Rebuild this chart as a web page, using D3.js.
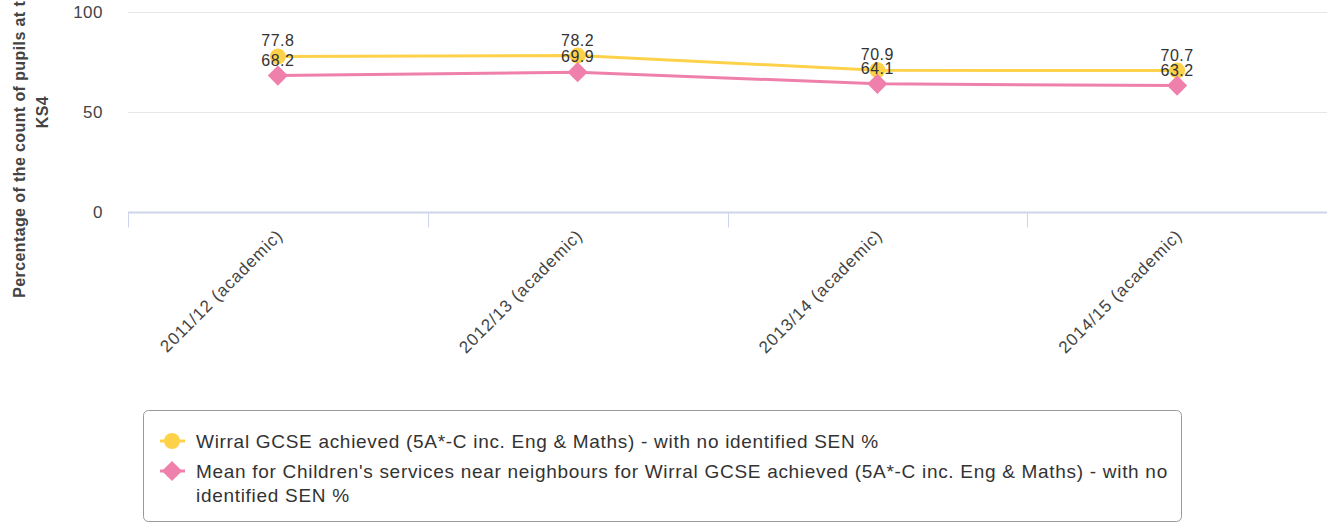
<!DOCTYPE html>
<html>
<head>
<meta charset="utf-8">
<script src="https://cdn.jsdelivr.net/npm/d3@7"></script>
<style>
  body { margin: 0; background: #fff; }
  svg { font-family: "Liberation Sans", Arial, sans-serif; }
</style>
</head>
<body>
<div id="chart"></div>
<script>
// chart data
var categories = ["2011/12 (academic)", "2012/13 (academic)", "2013/14 (academic)", "2014/15 (academic)"];
var wirralValues = [77.8, 78.2, 70.9, 70.7];
var neighbourValues = [68.2, 69.9, 64.1, 63.2];
var yTicks = [0, 50, 100];
var seriesNames = [
  "Wirral GCSE achieved (5A*-C inc. Eng & Maths) - with no identified SEN %",
  "Mean for Children's services near neighbours for Wirral GCSE achieved (5A*-C inc. Eng & Maths) - with no identified SEN %"
];

(function () {
  var width = 1327, height = 524;
  var plot = { left: 128, right: 1327, top: 12, bottom: 212 };
  var yellow = "#fdd24a", pink = "#ef80ab";

  var svg = d3.select("#chart").append("svg")
    .attr("width", width).attr("height", height);

  var x = d3.scaleBand().domain(categories).range([plot.left, plot.right]);
  var y = d3.scaleLinear().domain([0, 100]).range([plot.bottom, plot.top]);

  // grid lines
  svg.append("g").selectAll("line").data(yTicks).enter().append("line")
    .attr("x1", plot.left).attr("x2", plot.right)
    .attr("y1", function (d) { return y(d) + 0.5; })
    .attr("y2", function (d) { return y(d) + 0.5; })
    .attr("stroke", "#e6e6e6");

  // y labels
  svg.append("g").selectAll("text").data(yTicks).enter().append("text")
    .attr("x", 103).attr("y", function (d) { return y(d) + 6; })
    .attr("text-anchor", "end")
    .style("font-size", "17px").style("letter-spacing", "0.5px").style("fill", "#444")
    .text(function (d) { return d; });

  // y title, two lines
  var title = svg.append("text")
    .attr("transform", "translate(0," + y(50) + ") rotate(-90)")
    .attr("text-anchor", "middle")
    .style("font-size", "16px").style("letter-spacing", "0.4px")
    .style("font-weight", "bold").style("fill", "#444");
  title.append("tspan").attr("x", 0).attr("y", 25).text("Percentage of the count of pupils at the end of");
  title.append("tspan").attr("x", 0).attr("y", 48).text("KS4");

  // x axis
  var xAxis = svg.append("g").attr("transform", "translate(0," + (plot.bottom + 0.5) + ")");
  xAxis.append("line").attr("x1", plot.left).attr("x2", plot.right)
    .attr("stroke", "#ccd6eb").attr("stroke-width", 2);
  var tickPos = categories.map(function (c) { return x(c); });
  xAxis.selectAll(".tick").data(tickPos).enter().append("line")
    .attr("x1", function (d) { return Math.round(d) + 0.5; })
    .attr("x2", function (d) { return Math.round(d) + 0.5; })
    .attr("y1", 0).attr("y2", 15)
    .attr("stroke", "#ccd6eb");
  xAxis.selectAll("text").data(categories).enter().append("text")
    .attr("transform", function (d) {
      return "translate(" + (x(d) + x.bandwidth() / 2 + 6) + ",24) rotate(-45)";
    })
    .attr("text-anchor", "end")
    .style("font-size", "17px").style("letter-spacing", "0.9px").style("fill", "#444")
    .text(function (d) { return d; });

  var cx = function (d, i) { return x(categories[i]) + x.bandwidth() / 2; };
  var line = d3.line()
    .x(function (d, i) { return cx(d, i); })
    .y(function (d) { return y(d); });

  // series lines
  svg.append("path").datum(wirralValues).attr("d", line)
    .attr("fill", "none").attr("stroke", yellow).attr("stroke-width", 3);
  svg.append("path").datum(neighbourValues).attr("d", line)
    .attr("fill", "none").attr("stroke", pink).attr("stroke-width", 3);

  // markers
  svg.append("g").selectAll("circle").data(wirralValues).enter().append("circle")
    .attr("cx", cx).attr("cy", function (d) { return y(d); })
    .attr("r", 8).attr("fill", yellow);
  var diamond = d3.symbol().type(d3.symbolDiamond2).size(260);
  svg.append("g").selectAll("path").data(neighbourValues).enter().append("path")
    .attr("d", diamond)
    .attr("transform", function (d, i) { return "translate(" + cx(d, i) + "," + y(d) + ")"; })
    .attr("fill", pink);

  // data labels
  function labels(values) {
    svg.append("g").selectAll("text").data(values).enter().append("text")
      .attr("x", cx).attr("y", function (d) { return y(d) - 10; })
      .attr("text-anchor", "middle")
      .style("font-size", "16px").style("letter-spacing", "0.5px").style("fill", "#333")
      .text(function (d) { return d.toFixed(1); });
  }
  labels(wirralValues);
  labels(neighbourValues);

  // legend
  var legend = svg.append("g");
  legend.append("rect").attr("x", 143.5).attr("y", 410.5)
    .attr("width", 1038).attr("height", 111).attr("rx", 5)
    .attr("fill", "#fff").attr("stroke", "#999");
  var item1 = legend.append("g").attr("transform", "translate(0,441)");
  item1.append("line").attr("x1", 160).attr("x2", 185).attr("stroke", yellow).attr("stroke-width", 3);
  item1.append("circle").attr("cx", 172).attr("cy", 0).attr("r", 8).attr("fill", yellow);
  item1.append("text").attr("x", 196).attr("y", 7)
    .style("font-size", "19px").style("letter-spacing", "0.7px").style("fill", "#333")
    .text(seriesNames[0]);

  var item2 = legend.append("g").attr("transform", "translate(0,471)");
  item2.append("line").attr("x1", 160).attr("x2", 185).attr("stroke", pink).attr("stroke-width", 3);
  item2.append("path").attr("d", diamond).attr("transform", "translate(172,0)").attr("fill", pink);
  var t2 = item2.append("text")
    .style("font-size", "19px").style("letter-spacing", "0.7px").style("fill", "#333");
  t2.append("tspan").attr("x", 196).attr("y", 7)
    .text("Mean for Children's services near neighbours for Wirral GCSE achieved (5A*-C inc. Eng & Maths) - with no");
  t2.append("tspan").attr("x", 196).attr("y", 31).text("identified SEN %");
})();
</script>
</body>
</html>
